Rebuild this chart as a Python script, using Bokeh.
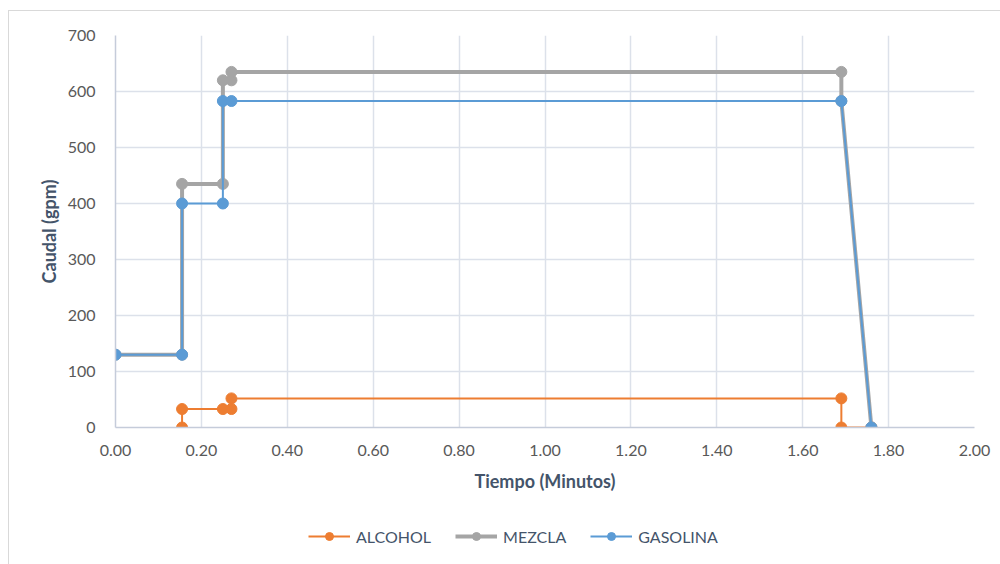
from bokeh.plotting import figure
from bokeh.layouts import column
from bokeh.models import Legend, LegendItem, FixedTicker, NumeralTickFormatter, Range1d
from bokeh.embed import file_html
from bokeh.resources import INLINE

# Caudal (gpm) vs tiempo (minutos) for each stream
tiempo_alcohol = [0.155, 0.155, 0.25, 0.27, 0.27, 1.69, 1.69, 1.76]
caudal_alcohol = [0, 33, 33, 33, 52, 52, 0, 0]

tiempo_mezcla = [0.0, 0.155, 0.155, 0.25, 0.25, 0.27, 0.27, 1.69, 1.69, 1.76]
caudal_mezcla = [130, 130, 435, 435, 620, 620, 635, 635, 583, 0]

tiempo_gasolina = [0.0, 0.155, 0.155, 0.25, 0.25, 0.27, 1.69, 1.76]
caudal_gasolina = [130, 130, 400, 400, 583, 583, 583, 0]

x_ticks = [0.0, 0.2, 0.4, 0.6, 0.8, 1.0, 1.2, 1.4, 1.6, 1.8, 2.0]
y_ticks = [0, 100, 200, 300, 400, 500, 600, 700]

FONT = "Lato"
TICK_COLOR = "#595959"
TITLE_COLOR = "#44546A"
GRID = "#DCE1EA"

p = figure(
    frame_width=859, frame_height=392,
    output_backend="svg", toolbar_location=None,
    x_range=Range1d(0, 2.0), y_range=Range1d(0, 700),
    min_border_left=106, min_border_right=26,
    min_border_top=24, min_border_bottom=68,
    background_fill_color="white", border_fill_color="white",
)
p.outline_line_color = None

p.xaxis.ticker = FixedTicker(ticks=x_ticks)
p.yaxis.ticker = FixedTicker(ticks=y_ticks)
p.xaxis.formatter = NumeralTickFormatter(format="0.00")
p.yaxis.formatter = NumeralTickFormatter(format="0")

for ax in (p.xaxis[0], p.yaxis[0]):
    ax.axis_line_color = "#C5CCDA"
    ax.axis_line_width = 1.5
    ax.major_tick_line_color = None
    ax.minor_tick_line_color = None
    ax.major_label_text_font = FONT
    ax.major_label_text_font_size = "16px"
    ax.major_label_text_color = TICK_COLOR
    ax.axis_label_text_font = FONT
    ax.axis_label_text_font_size = "18px"
    ax.axis_label_text_font_style = "bold"
    ax.axis_label_text_color = TITLE_COLOR

p.xaxis.axis_label = "Tiempo (Minutos)"
p.yaxis.axis_label = "Caudal (gpm)"
p.xaxis.major_label_standoff = 11
p.yaxis.major_label_standoff = 14
p.xaxis.axis_label_standoff = 11
p.yaxis.axis_label_standoff = 5

p.grid.grid_line_color = GRID
p.grid.grid_line_width = 1.5

series = [
    ("ALCOHOL", tiempo_alcohol, caudal_alcohol, "#ED7D31", 2),
    ("MEZCLA", tiempo_mezcla, caudal_mezcla, "#A5A5A5", 4),
    ("GASOLINA", tiempo_gasolina, caudal_gasolina, "#5B9BD5", 2),
]

for name, xs, ys, color, lw in series:
    p.line(xs, ys, line_color=color, line_width=lw)
    p.scatter(xs, ys, marker="circle", size=11, fill_color=color, line_color=color)

# legend strip under the chart: same series, kept outside its (empty) view
q = figure(
    width=991, height=69,
    output_backend="svg", toolbar_location=None,
    x_range=Range1d(0, 2.0), y_range=Range1d(1000, 1001),
    x_axis_type=None, y_axis_type=None,
    min_border=0, background_fill_color="white", border_fill_color="white",
)
q.outline_line_color = None
q.grid.visible = False

items = []
for name, xs, ys, color, lw in series:
    ln = q.line(xs, ys, line_color=color, line_width=lw)
    pts = q.scatter(xs, ys, marker="circle", size=11, fill_color=color, line_color=color)
    items.append(LegendItem(label=name, renderers=[ln, pts]))

legend = Legend(items=items, orientation="horizontal", location=(193, 18),
                glyph_width=42, glyph_height=20, label_standoff=6, spacing=24,
                padding=0, margin=0, border_line_color=None, background_fill_alpha=0,
                label_text_font=FONT, label_text_font_size="16px",
                label_text_color="#44546A")
q.add_layout(legend, "center")

layout = column(p, q, spacing=0)
# outer chart border (left and top edges)
layout.styles = {
    "margin-left": "8px",
    "margin-top": "10px",
    "border-left": "1px solid #D9D9D9",
    "border-top": "1px solid #D9D9D9",
}

open("out.html", "w").write(file_html(layout, INLINE))
